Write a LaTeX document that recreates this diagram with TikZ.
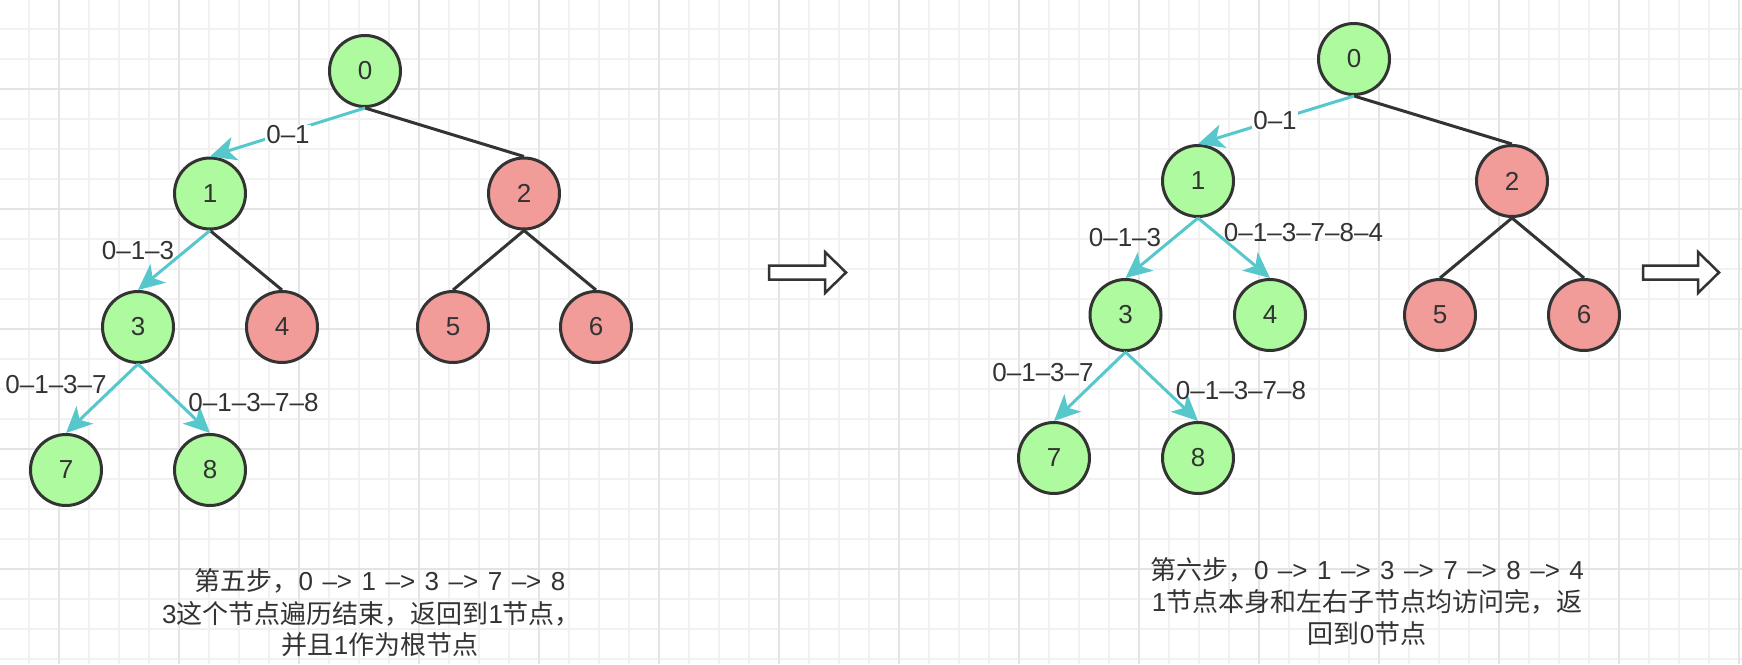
\documentclass[tikz,border=0pt]{standalone}
\usepackage{fontspec}
\setmainfont{Liberation Sans}
\newfontfamily\cjk{Noto Sans CJK SC}
\usetikzlibrary{arrows.meta}
\definecolor{gmin}{HTML}{F1F1F1}
\definecolor{gmaj}{HTML}{E4E4E4}
\definecolor{ngreen}{HTML}{AEFA9F}
\definecolor{nred}{HTML}{F19C99}
\definecolor{ecyan}{HTML}{56C8CC}
\definecolor{dk}{HTML}{333333}
\newcommand\widespc{\spaceskip=9.5pt\relax}
\begin{document}
\begin{tikzpicture}[x=1pt,y=-1pt,
  every node/.style={font=\fontsize{26}{32}\selectfont, text=dk},
  tnode/.style={circle, draw=dk, line width=3pt, minimum size=71pt, inner sep=0pt},
  gnode/.style={tnode, fill=ngreen},
  rnode/.style={tnode, fill=nred},
  plain/.style={draw=dk, line width=3pt},
  visit/.style={draw=ecyan, line width=3pt, -{Stealth[length=26pt,width=24pt,inset=7pt]}},
  elabel/.style={inner sep=1pt},
  onlabel/.style={elabel, fill=white},
  txtline/.style={anchor=base, inner sep=0pt, font=\fontsize{26}{32}\selectfont\widespc},
  harrow/.style={draw=dk, line width=2.5pt, fill=white, line join=miter},
  gminor/.style={draw=gmin, line width=1.6pt},
  gmajor/.style={draw=gmaj, line width=1.8pt}
]
\useasboundingbox (0,0) rectangle (1742,664);
\fill[white] (0,0) rectangle (1742,664);
% grid
\foreach \x in {29,59,...,1739} \draw[gminor] (\x,0) -- (\x,664);
\foreach \y in {29,59,...,659} \draw[gminor] (0,\y) -- (1742,\y);
\foreach \x in {59,179,...,1739} \draw[gmajor] (\x,0) -- (\x,664);
\foreach \y in {89,209,...,569} \draw[gmajor] (0,\y) -- (1742,\y);

% ---------- left tree ----------
\node[gnode] (L0) at (365,71) {0};
\node[gnode] (L1) at (210,193.5) {1};
\node[rnode] (L2) at (524,193.5) {2};
\node[gnode] (L3) at (138,327) {3};
\node[rnode] (L4) at (282,327) {4};
\node[rnode] (L5) at (453,327) {5};
\node[rnode] (L6) at (596,327) {6};
\node[gnode] (L7) at (66,470) {7};
\node[gnode] (L8) at (210,470) {8};

\draw[plain] (L0.south) -- (L2.north);
\draw[plain] (L1.south) -- (L4.north);
\draw[plain] (L2.south) -- (L5.north);
\draw[plain] (L2.south) -- (L6.north);
\draw[visit] (L0.south) -- (L1.north);
\draw[visit] (L1.south) -- (L3.north);
\draw[visit] (L3.south) -- (L7.north);
\draw[visit] (L3.south) -- (L8.north);

\node[onlabel] (la01) at (288,135) {0–1};
\node[elabel] (la013) at (138,251) {0–1–3};
\node[elabel] (la0137) at (56,385) {0–1–3–7};
\node[elabel] (la01378) at (253.5,403) {0–1–3–7–8};

\node[txtline] (lt1) at (380,590.5) {{\cjk 第五步，}0 –> 1 –> 3 –> 7 –> 8};
\node[txtline] (lt2) at (371.5,623) {3{\cjk 这个节点遍历结束，返回到}1{\cjk 节点，}};
\node[txtline] (lt3) at (380,654) {{\cjk 并且}1{\cjk 作为根节点}};

% hollow arrows
\draw[harrow] (769,265.5) -- (825,265.5) -- (825,252) -- (846,272.5) -- (825,293) -- (825,279.5) -- (769,279.5) -- cycle;
\draw[harrow] (1643,265.5) -- (1698,265.5) -- (1698,252) -- (1719,272.5) -- (1698,293) -- (1698,279.5) -- (1643,279.5) -- cycle;

% ---------- right tree ----------
\node[gnode] (R0) at (1354,59) {0};
\node[gnode] (R1) at (1198,181) {1};
\node[rnode] (R2) at (1512,181) {2};
\node[gnode] (R3) at (1125.5,315) {3};
\node[gnode] (R4) at (1270,315) {4};
\node[rnode] (R5) at (1440,315) {5};
\node[rnode] (R6) at (1584,315) {6};
\node[gnode] (R7) at (1054,458) {7};
\node[gnode] (R8) at (1198,458) {8};

\draw[plain] (R0.south) -- (R2.north);
\draw[plain] (R2.south) -- (R5.north);
\draw[plain] (R2.south) -- (R6.north);
\draw[visit] (R0.south) -- (R1.north);
\draw[visit] (R1.south) -- (R3.north);
\draw[visit] (R1.south) -- (R4.north);
\draw[visit] (R3.south) -- (R7.north);
\draw[visit] (R3.south) -- (R8.north);

\node[onlabel] (ra01) at (1275,121) {0–1};
\node[elabel] (ra013) at (1125,238) {0–1–3};
\node[elabel] (ra013784) at (1303.5,233) {0–1–3–7–8–4};
\node[elabel] (ra0137) at (1043,373) {0–1–3–7};
\node[elabel] (ra01378) at (1241,391) {0–1–3–7–8};

\node[txtline] (rt1) at (1367,579) {{\cjk 第六步，}0 –> 1 –> 3 –> 7 –> 8 –> 4};
\node[txtline] (rt2) at (1367,611.5) {1{\cjk 节点本身和左右子节点均访问完，返}};
\node[txtline] (rt3) at (1367,643) {{\cjk 回到}0{\cjk 节点}};
\end{tikzpicture}
\end{document}
